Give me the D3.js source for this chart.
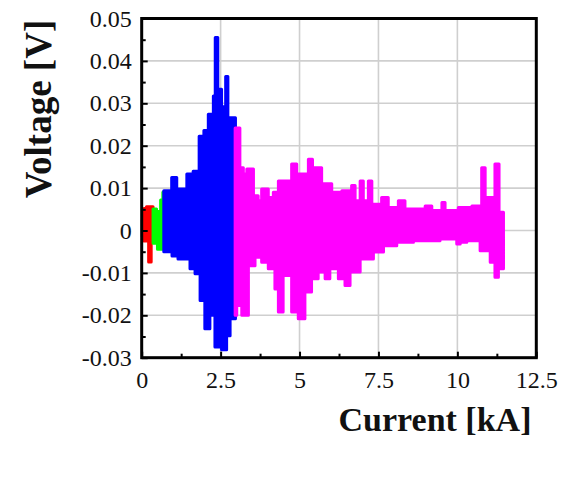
<!DOCTYPE html>
<html>
<head>
<meta charset="utf-8">
<script src="https://cdn.jsdelivr.net/npm/d3@7"></script>
<style>
  html, body { margin: 0; padding: 0; background: #fff; }
  svg { display: block; }
  .tick text { font-family: "Liberation Serif", "Times New Roman", serif; font-size: 24px; fill: #111; }
  .title { font-family: "Liberation Serif", "Times New Roman", serif; font-weight: bold; fill: #111; }
</style>
</head>
<body>
<svg id="chart" width="564" height="490"></svg>
<script>
// Axis ticks and their labels
const xTicks = [0, 2.5, 5, 7.5, 10, 12.5];
const xTickLabels = ["0", "2.5", "5", "7.5", "10", "12.5"];
const xMinorTicks = [1.25, 3.75, 6.25, 8.75, 11.25];
const yTicks = [-0.03, -0.02, -0.01, 0, 0.01, 0.02, 0.03, 0.04, 0.05];
const yTickLabels = ["-0.03", "-0.02", "-0.01", "0", "0.01", "0.02", "0.03", "0.04", "0.05"];
const yMinorTicks = [-0.025, -0.015, -0.005, 0.005, 0.015, 0.025, 0.035, 0.045];

// Voltage envelope of each current range: segment edges [kA] and the
// peak (hi) / trough (lo) voltage [V] held over each segment.
const redHiKA = [0.02, 0.07, 0.15, 0.36];
const redHiV  = [0.0025, 0.0052, 0.0056];
const redLoKA = [0.02, 0.07, 0.22, 0.30, 0.36];
const redLoV  = [-0.0015, -0.0025, -0.0074, -0.0026];

const greenHiKA = [0.36, 0.47, 0.60, 0.67, 0.73];
const greenHiV  = [0.0051, 0.0045, 0.0072, 0.0090];
const greenLoKA = [0.36, 0.50, 0.73];
const greenLoV  = [-0.0030, -0.0044];

const blueHiKA = [0.70, 0.95, 1.11, 1.43, 1.63, 1.82, 1.97, 2.11, 2.27, 2.33, 2.41, 2.53, 2.66, 2.73, 2.97];
const blueHiV  = [0.0094, 0.0125, 0.0098, 0.0133, 0.0140, 0.0222, 0.0236, 0.0274, 0.0317, 0.0455, 0.0333, 0.0292, 0.0363, 0.0266];
const blueLoKA = [0.70, 0.96, 1.15, 1.53, 1.69, 1.85, 2.00, 2.16, 2.32, 2.48, 2.53, 2.69, 2.80, 2.97];
const blueLoV  = [-0.0050, -0.0060, -0.0067, -0.0090, -0.0102, -0.0165, -0.0232, -0.0200, -0.0275, -0.0240, -0.0281, -0.0248, -0.0208];

const magentaHiKA = [2.96, 3.11, 3.22, 3.33, 3.54, 3.69, 3.80, 4.01, 4.17, 4.33, 4.75, 4.91, 5.28, 5.41, 5.70, 6.02, 6.34, 6.65, 6.76, 6.92, 7.02, 7.18, 7.29, 7.60, 7.81, 8.13, 8.34, 8.98, 9.19, 9.51, 9.61, 10.03, 10.46, 10.77, 10.88, 11.19, 11.32, 11.46];
const magentaHiV  = [0.0242, 0.0148, 0.0133, 0.0145, 0.0082, 0.0070, 0.0098, 0.0078, 0.0090, 0.0117, 0.0157, 0.0133, 0.0168, 0.0148, 0.0110, 0.0090, 0.0094, 0.0106, 0.0070, 0.0117, 0.0070, 0.0117, 0.0062, 0.0078, 0.0054, 0.0070, 0.0051, 0.0058, 0.0047, 0.0066, 0.0047, 0.0054, 0.0058, 0.0148, 0.0078, 0.0157, 0.0043];
const magentaLoKA = [2.96, 3.01, 3.17, 3.38, 3.59, 3.80, 4.01, 4.22, 4.33, 4.48, 4.75, 4.96, 5.17, 5.38, 5.59, 5.81, 5.96, 6.23, 6.44, 6.60, 6.92, 7.34, 7.66, 8.08, 8.61, 9.45, 9.98, 10.09, 10.30, 10.72, 11.04, 11.19, 11.30, 11.46];
const magentaLoV  = [-0.0200, -0.0177, -0.0200, -0.0083, -0.0063, -0.0075, -0.0090, -0.0138, -0.0192, -0.0106, -0.0192, -0.0208, -0.0145, -0.0114, -0.0098, -0.0114, -0.0090, -0.0114, -0.0130, -0.0098, -0.0067, -0.0051, -0.0036, -0.0028, -0.0024, -0.0020, -0.0032, -0.0028, -0.0024, -0.0048, -0.0075, -0.0110, -0.0090];

const series = [
  { color: "#ff0000", hiKA: redHiKA, hiV: redHiV, loKA: redLoKA, loV: redLoV },
  { color: "#00ff00", hiKA: greenHiKA, hiV: greenHiV, loKA: greenLoKA, loV: greenLoV },
  { color: "#0000ff", hiKA: blueHiKA, hiV: blueHiV, loKA: blueLoKA, loV: blueLoV },
  { color: "#ff00ff", hiKA: magentaHiKA, hiV: magentaHiV, loKA: magentaLoKA, loV: magentaLoV }
];

const svg = d3.select("#chart");
const plotLeft = 141.7, plotRight = 536.3, plotTop = 18.5, plotBottom = 357.7;

const x = d3.scaleLinear().domain([0, 12.5]).range([plotLeft, plotRight]);
const y = d3.scaleLinear().domain([-0.03, 0.05]).range([plotBottom, plotTop]);

// grid
const grid = svg.append("g").attr("stroke", "#cfcfcf").attr("stroke-width", 1.6);
grid.selectAll("line.gx").data(xTicks.slice(1, -1)).join("line")
  .attr("x1", d => x(d)).attr("x2", d => x(d)).attr("y1", plotTop).attr("y2", plotBottom);
grid.selectAll("line.gy").data(yTicks.slice(1, -1)).join("line")
  .attr("y1", d => y(d)).attr("y2", d => y(d)).attr("x1", plotLeft).attr("x2", plotRight);

// step outline: upper edge forward, lower edge back
function stepPoints(edges, vals) {
  const pts = [];
  const n = Math.min(vals.length, edges.length - 1);
  for (let i = 0; i < n; i++) {
    pts.push([edges[i], vals[i]]);
    pts.push([edges[i + 1], vals[i]]);
  }
  return pts;
}
const outline = d3.line().x(d => x(d[0])).y(d => y(d[1]));

const plot = svg.append("g");
series.forEach(s => {
  const pts = stepPoints(s.hiKA, s.hiV).concat(stepPoints(s.loKA, s.loV).reverse());
  plot.append("path")
    .attr("d", outline(pts) + "Z")
    .attr("fill", s.color)
    .attr("stroke", s.color)
    .attr("stroke-width", 3)
    .attr("stroke-linejoin", "round");
});

// inward ticks
const yAxis = d3.axisLeft(y).tickValues(yTicks).tickSize(-6).tickPadding(10)
  .tickFormat((d, i) => yTickLabels[i]);
const yMinor = d3.axisLeft(y).tickValues(yMinorTicks).tickSize(-4).tickFormat("");
const xAxis = d3.axisBottom(x).tickValues(xTicks).tickSize(-6).tickPadding(13)
  .tickFormat((d, i) => xTickLabels[i]);
const xMinor = d3.axisBottom(x).tickValues(xMinorTicks).tickSize(-4).tickFormat("");

function styleAxis(g) {
  g.select(".domain").remove();
  g.selectAll(".tick line").attr("stroke", "#000").attr("stroke-width", 2);
}
svg.append("g").attr("transform", `translate(${plotLeft},0)`).call(yAxis).call(styleAxis);
svg.append("g").attr("transform", `translate(${plotLeft},0)`).call(yMinor).call(styleAxis);
svg.append("g").attr("transform", `translate(0,${plotBottom})`).call(xAxis).call(styleAxis);
svg.append("g").attr("transform", `translate(0,${plotBottom})`).call(xMinor).call(styleAxis);
svg.selectAll(".tick text").attr("font-family", null).attr("font-size", null);

// frame
svg.append("rect")
  .attr("x", plotLeft).attr("y", plotTop)
  .attr("width", plotRight - plotLeft).attr("height", plotBottom - plotTop)
  .attr("fill", "none").attr("stroke", "#000").attr("stroke-width", 3);

// axis titles
svg.append("text").attr("class", "title")
  .attr("x", 435).attr("y", 431)
  .attr("text-anchor", "middle").attr("font-size", 34)
  .text("Current [kA]");
svg.append("text").attr("class", "title")
  .attr("transform", "translate(51,109) rotate(-90)")
  .attr("text-anchor", "middle").attr("font-size", 37)
  .text("Voltage [V]");
</script>
</body>
</html>
